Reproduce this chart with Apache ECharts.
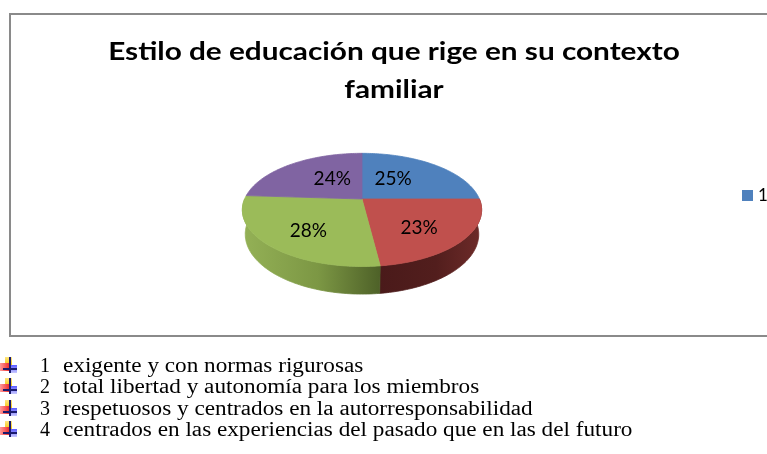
<!DOCTYPE html>
<html>
<head>
<meta charset="utf-8">
<script src="https://cdn.jsdelivr.net/npm/echarts@6/dist/echarts.min.js"></script>
<style>
  html, body { margin: 0; padding: 0; background: #fff; }
  body { width: 767px; height: 454px; overflow: hidden; position: relative; }
  #chart { position: absolute; left: 0; top: 0; width: 767px; height: 454px; }
  .row { position: absolute; left: 0; height: 21px; line-height: 21px; width: 767px;
         font-family: "Liberation Serif", "Times New Roman", serif; font-size: 20px; color: #000; white-space: nowrap; }
  .num { position: absolute; left: 40px; }
  .txt { position: absolute; left: 63px; transform: scaleX(1.16); transform-origin: 0 50%; }
  .ico { position: absolute; left: 0; top: 2px; width: 18px; height: 17px; }
  .ico i { position: absolute; display: block; }
</style>
</head>
<body>
<div id="chart"></div>
<div id="list"></div>
<script>
// datos del grafico
var categories = ["1", "2", "3", "4"];
var percents = [25, 23, 28, 24];
var legendItems = ["1"];
var titleLines = ["Estilo de educación que rige en su contexto", "familiar"];
var descriptions = [
  "exigente y con normas rigurosas",
  "total libertad y autonomía para los miembros",
  "respetuosos y centrados en la autorresponsabilidad",
  "centrados en las experiencias del pasado que en las del futuro"
];

var topColors = ["#4F81BD", "#C0504D", "#9BBB59", "#8064A2"];
var sideColors = [
  ["#3a6190", "#2c4a70", "#3a6190"],
  ["#4a1a1a", "#521e1d", "#6e2b29"],
  ["#94b156", "#7c9744", "#4e6128"],
  ["#5f4a7a", "#4a3960", "#5f4a7a"]
];

// proyeccion del pastel 3D
var cx = 362, cy = 199, F = 540, L = 4.6;
var sa = 0.464, ca = 0.886, depthH = 0.236;
function proj(X, Y, Z) {
  var yc = Y * ca + Z * sa;
  var d = L + Z * ca - Y * sa;
  return [cx + F * X / d, cy - F * yc / d];
}
function rim(theta, Y) {
  return proj(Math.sin(theta), Y, Math.cos(theta));
}

var total = percents.reduce(function (a, b) { return a + b; }, 0);

function renderSlice(params, api) {
  var i = params.dataIndex;
  var before = 0;
  for (var k = 0; k < i; k++) before += percents[k];
  var a0 = before / total * Math.PI * 2;
  var a1 = (before + api.value(0)) / total * Math.PI * 2;
  var steps = 80;
  var children = [];

  // pared lateral (solo la mitad delantera)
  var s0 = Math.max(a0, Math.PI / 2), s1 = Math.min(a1, Math.PI * 1.5);
  if (s1 > s0) {
    var side = [];
    for (var j = 0; j <= steps; j++) side.push(rim(s0 + (s1 - s0) * j / steps, 0));
    for (var j2 = steps; j2 >= 0; j2--) side.push(rim(s0 + (s1 - s0) * j2 / steps, -depthH));
    var xs = side.map(function (p) { return p[0]; });
    var sc = sideColors[i];
    var grad = new echarts.graphic.LinearGradient(Math.min.apply(null, xs), 0, Math.max.apply(null, xs), 0, [
      { offset: 0, color: sc[0] }, { offset: 0.55, color: sc[1] }, { offset: 1, color: sc[2] }
    ], true);
    children.push({ type: "polygon", z2: 1, shape: { points: side },
      style: { fill: grad, stroke: grad, lineWidth: 0.8 } });
  }

  // cara superior
  var pts = [proj(0, 0, 0)];
  for (var m = 0; m <= steps; m++) pts.push(rim(a0 + (a1 - a0) * m / steps, 0));
  children.push({ type: "polygon", z2: 10, shape: { points: pts },
    style: { fill: topColors[i], stroke: topColors[i], lineWidth: 0.8 } });

  // etiqueta de porcentaje
  var mid = (a0 + a1) / 2;
  var r = 0.5 - 0.15 * Math.cos(mid);
  var lp = proj(r * Math.sin(mid), 0, r * Math.cos(mid));
  children.push({ type: "text", z2: 20,
    style: { text: Math.round(api.value(0) / total * 100) + "%", x: lp[0], y: lp[1] - 8 * Math.cos(mid),
      align: "center", verticalAlign: "middle", fill: "#000",
      font: "19px Lato, 'Open Sans', sans-serif" } });

  return { type: "group", children: children };
}

var chart = echarts.init(document.getElementById("chart"));
chart.setOption({
  animation: false,
  color: topColors,
  legend: {
    data: legendItems,
    left: 742,
    top: 187,
    padding: 0,
    icon: "rect",
    itemWidth: 11,
    itemHeight: 11,
    textStyle: { fontFamily: "Lato", fontSize: 17, color: "#000" }
  },
  graphic: [{
    type: "rect",
    shape: { x: 10, y: 14, width: 800, height: 322 },
    style: { fill: "none", stroke: "#8a8a8a", lineWidth: 2 }
  }, {
    // titulo (ensanchado como en la imagen original)
    type: "text",
    x: 394,
    y: 33,
    scaleX: 1.19,
    style: {
      text: titleLines.join("\n"),
      x: 0, y: 0,
      align: "center",
      verticalAlign: "top",
      lineHeight: 38,
      fill: "#000",
      font: "bold 25px Lato, sans-serif"
    }
  }],
  series: [{
    type: "custom",
    name: "1",
    coordinateSystem: "none",
    itemStyle: { color: topColors[0] },
    renderItem: renderSlice,
    data: categories.map(function (c, i) { return { name: c, value: [percents[i]] }; })
  }]
});

// lista inferior
var rowCenters = [366, 387, 409, 430];
var list = document.getElementById("list");
categories.forEach(function (c, i) {
  var row = document.createElement("div");
  row.className = "row";
  row.style.top = (rowCenters[i] - 11) + "px";
  row.innerHTML =
    '<span class="ico">' +
      '<i style="left:5px;top:0;width:7px;height:9px;background:linear-gradient(#ffe680,#f5c400)"></i>' +
      '<i style="left:0;top:6px;width:9px;height:8px;background:linear-gradient(90deg,#ff9a9a,#f03030)"></i>' +
      '<i style="left:9px;top:8px;width:8px;height:8px;background:linear-gradient(#5a5aff,#c8c8ff)"></i>' +
      '<i style="left:9px;top:0;width:2px;height:16px;background:#1a1a6e"></i>' +
      '<i style="left:3px;top:11px;width:14px;height:2px;background:#1a1a6e"></i>' +
    '</span>' +
    '<span class="num">' + c + '</span>' +
    '<span class="txt">' + descriptions[i] + '</span>';
  list.appendChild(row);
});
</script>
</body>
</html>
